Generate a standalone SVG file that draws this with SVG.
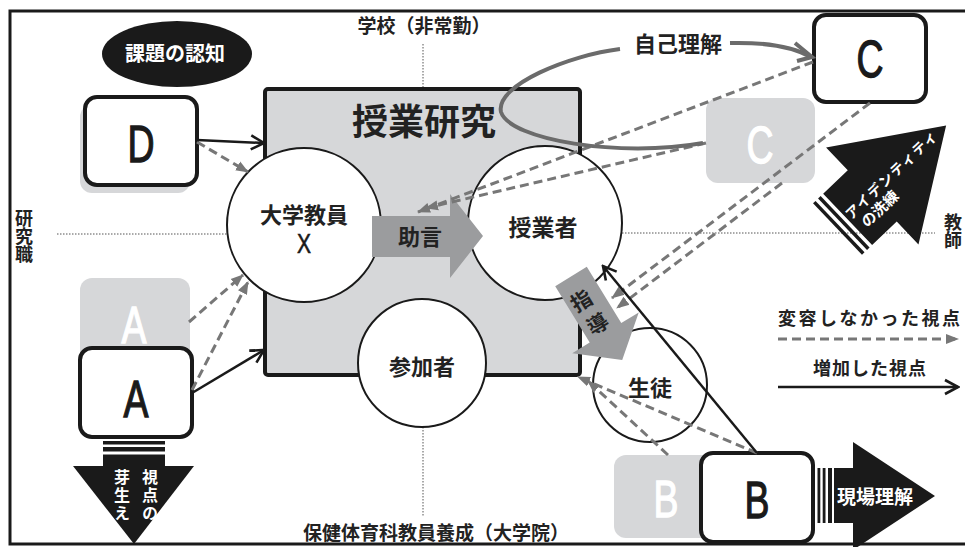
<svg xmlns="http://www.w3.org/2000/svg" width="965" height="547" viewBox="0 0 965 547">
<defs>
<style>
.jp{font-family:"Noto Sans CJK JP","Noto Sans",sans-serif;font-weight:bold;fill:#222}
.big{font-family:"Liberation Sans",Arial,sans-serif;font-size:52px;text-anchor:middle;fill:#1a1a1a;stroke:#1a1a1a;stroke-width:1.3}
.fade{fill:#d6d7d9}
.box{fill:#fff;stroke:#1a1a1a;stroke-width:4}
.circ{fill:#fff;stroke:#1a1a1a;stroke-width:2}
.dot{stroke:#555;stroke-width:1;stroke-dasharray:1.5 1.5;fill:none}
.dash{stroke:#777;stroke-width:3;stroke-dasharray:9 5;fill:none;marker-end:url(#dh)}
.solid{stroke:#1a1a1a;stroke-width:2.5;fill:none;marker-end:url(#sh)}
.c{text-anchor:middle}
.w{fill:#fff}
.bigw{fill:#fff;stroke:#fff}
</style>
<marker id="dh" markerUnits="userSpaceOnUse" markerWidth="14" markerHeight="12" viewBox="0 0 14 12" refX="12" refY="6" orient="auto">
<path d="M0,1 L13,6 L0,11 Z" fill="#777"/>
</marker>
<marker id="sh" markerUnits="userSpaceOnUse" markerWidth="18" markerHeight="18" viewBox="0 0 18 18" refX="16" refY="9" orient="auto">
<path d="M3,2 L16,9 L3,16" fill="none" stroke="#1a1a1a" stroke-width="2.6"/>
</marker>
</defs>

<rect x="10" y="11" width="980" height="533" fill="#fff" stroke="#1a1a1a" stroke-width="3"/>

<g id="axes">
<line class="dot" x1="423" y1="44" x2="423" y2="89"/>
<line class="dot" x1="423" y1="427" x2="423" y2="517"/>
<line class="dot" x1="57" y1="234" x2="227" y2="234"/>
<line class="dot" x1="622" y1="233" x2="935" y2="233"/>
<text class="jp c" x="424" y="33" font-size="19">学校（非常勤）</text>
<text class="jp c" x="436" y="540" font-size="19">保健体育科教員養成（大学院）</text>
<text class="jp" x="24" y="209" font-size="18" style="writing-mode:vertical-rl">研究職</text>
<text class="jp" x="953" y="213" font-size="18" style="writing-mode:vertical-rl">教師</text>
</g>

<g id="kadai">
<ellipse cx="177" cy="54" rx="75" ry="33" fill="#1a1a1a"/>
<text class="jp c w" x="175" y="61" font-size="20">課題の認知</text>
</g>

<g id="jugyokenkyu">
<rect x="265" y="89" width="315" height="286" rx="3" fill="#d6d7d9" stroke="#1a1a1a" stroke-width="4"/>
<text class="jp c" x="424" y="135" font-size="36">授業研究</text>
</g>

<g id="D">
<rect class="fade" x="80" y="105" width="110" height="88" rx="12"/>
<rect class="box" x="85" y="97" width="112" height="88" rx="12"/>
<text class="big" transform="translate(141,162) scale(0.72,1)">D</text>
</g>

<g id="A-past">
<rect class="fade" x="80" y="278" width="110" height="90" rx="12"/>
<text class="big bigw" transform="translate(134,343) scale(0.72,1)">A</text>
</g>

<g id="A">
<rect class="box" x="80" y="348" width="112" height="89" rx="12"/>
<text class="big" transform="translate(136,417) scale(0.72,1)">A</text>
</g>

<g id="A-arrow">
<rect x="103" y="441" width="62" height="3.5" fill="#1a1a1a"/>
<rect x="103" y="447" width="62" height="4.5" fill="#1a1a1a"/>
<rect x="103" y="454.5" width="62" height="12" fill="#1a1a1a"/>
<path d="M73,466 L194,466 L134,544 Z" fill="#1a1a1a"/>
<text class="jp w" x="150" y="469" font-size="16" letter-spacing="2" style="writing-mode:vertical-rl">視点の</text>
<text class="jp w" x="122" y="469" font-size="16" letter-spacing="2" style="writing-mode:vertical-rl">芽生え</text>
</g>

<g id="C-past">
<rect class="fade" x="706" y="98" width="109" height="85" rx="12"/>
<text class="big bigw" transform="translate(760,163) scale(0.72,1)">C</text>
</g>

<g id="C">
<rect class="box" x="814" y="15" width="112" height="87" rx="12"/>
<text class="big" transform="translate(870,77) scale(0.72,1)">C</text>
</g>

<g id="B-past">
<rect class="fade" x="614" y="455" width="110" height="83" rx="12"/>
<text class="big bigw" transform="translate(666,517) scale(0.72,1)">B</text>
</g>

<g id="B">
<rect class="box" x="701" y="453" width="112" height="89" rx="12"/>
<text class="big" transform="translate(757,518) scale(0.72,1)">B</text>
</g>

<g id="B-arrow">
<rect x="817.5" y="468" width="2.8" height="55" fill="#1a1a1a"/>
<rect x="822.7" y="468" width="2.8" height="55" fill="#1a1a1a"/>
<rect x="828" y="468" width="4" height="55" fill="#1a1a1a"/>
<path d="M834,468 L853,468 L853,442 L935,496 L853,550 L853,523 L834,523 Z" fill="#1a1a1a"/>
<text class="jp w" x="875" y="504" font-size="19" text-anchor="middle">現場理解</text>
</g>

<g id="identity-arrow" transform="translate(837.5,229) rotate(-43.6)">
<rect x="0" y="-35.5" width="3.5" height="71" fill="#1a1a1a"/>
<rect x="7" y="-35.5" width="3.5" height="71" fill="#1a1a1a"/>
<path d="M14,-35.5 L48,-35.5 L48,-67 L150,0 L48,67 L48,35.5 L14,35.5 Z" fill="#1a1a1a"/>
<text class="jp w" x="16" y="3" font-size="14" letter-spacing="1.5">アイデンティティ</text>
<text class="jp w" x="22" y="20" font-size="15">の洗練</text>
</g>

<g id="X">
<circle class="circ" cx="304" cy="225" r="77"/>
<text class="jp c" x="304" y="223" font-size="22">大学教員</text>
<text font-family="Liberation Sans,Arial,sans-serif" font-size="28" fill="#1a1a1a" stroke="#1a1a1a" stroke-width="0.6" text-anchor="middle" transform="translate(304,253) scale(0.75,1)">X</text>
</g>

<g id="jugyosha">
<circle class="circ" cx="545" cy="223" r="77"/>
<text class="jp c" x="543" y="236" font-size="23">授業者</text>
</g>

<g id="sankasha">
<circle class="circ" cx="422" cy="363" r="64"/>
<text class="jp c" x="422" y="375" font-size="22">参加者</text>
</g>

<g id="seito">
<circle class="circ" cx="650" cy="385" r="57"/>
<text class="jp c" x="650" y="396" font-size="22">生徒</text>
</g>

<g id="jogen">
<path d="M372,216 L450,216 L450,194 L483,236 L450,278 L450,257 L372,257 Z" fill="#9b9c9e"/>
<text class="jp c" x="420" y="245" font-size="22">助言</text>
</g>

<g id="shido" transform="translate(571,276.5) rotate(58.5)">
<path d="M0,-18.5 L66,-18.5 L66,-39 L98,0 L66,39 L66,18.5 L0,18.5 Z" fill="#9b9c9e"/>
<text class="jp c" font-size="21" transform="translate(27,4) rotate(-90)" dy="7">指</text>
<text class="jp c" font-size="21" transform="translate(55,2) rotate(-90)" dy="7">導</text>
</g>

<g id="connectors">
<line class="dash" x1="197" y1="142" x2="248" y2="172"/>
<line class="dash" x1="189" y1="322" x2="243" y2="275"/>
<line class="dash" x1="192" y1="390" x2="248" y2="282"/>
<line class="dash" x1="813" y1="62" x2="418" y2="212"/>
<line class="dash" x1="706" y1="143" x2="426" y2="208"/>
<line class="dash" x1="870" y1="103" x2="612" y2="298"/>
<line class="dash" x1="782" y1="183" x2="617" y2="308"/>
<line class="dash" x1="757" y1="453" x2="578" y2="377"/>
<line class="dash" x1="668" y1="455" x2="588" y2="381"/>
<line class="solid" x1="197" y1="140" x2="264" y2="143"/>
<line class="solid" x1="192" y1="393" x2="264" y2="350"/>
<line class="solid" x1="757" y1="453" x2="603" y2="266"/>
<path d="M703,143 C620,158 510,140 501,112 C495,85 570,55 620,49" fill="none" stroke="#6b6b6b" stroke-width="4"/>
<path d="M730,43 C770,42 795,48 811,57" fill="none" stroke="#6b6b6b" stroke-width="4"/>
<path d="M795,43 L812,57 L797,61" fill="none" stroke="#6b6b6b" stroke-width="4"/>
</g>
<text class="jp c" x="678" y="52" font-size="22">自己理解</text>

<g id="legend">
<text class="jp" x="778" y="325" font-size="18" font-weight="500" textLength="182">変容しなかった視点</text>
<line class="dash" x1="778" y1="339" x2="958" y2="339"/>
<text class="jp c" x="870" y="375" font-size="18" letter-spacing="1">増加した視点</text>
<line class="solid" x1="778" y1="387" x2="958" y2="387"/>
</g>
</svg>
